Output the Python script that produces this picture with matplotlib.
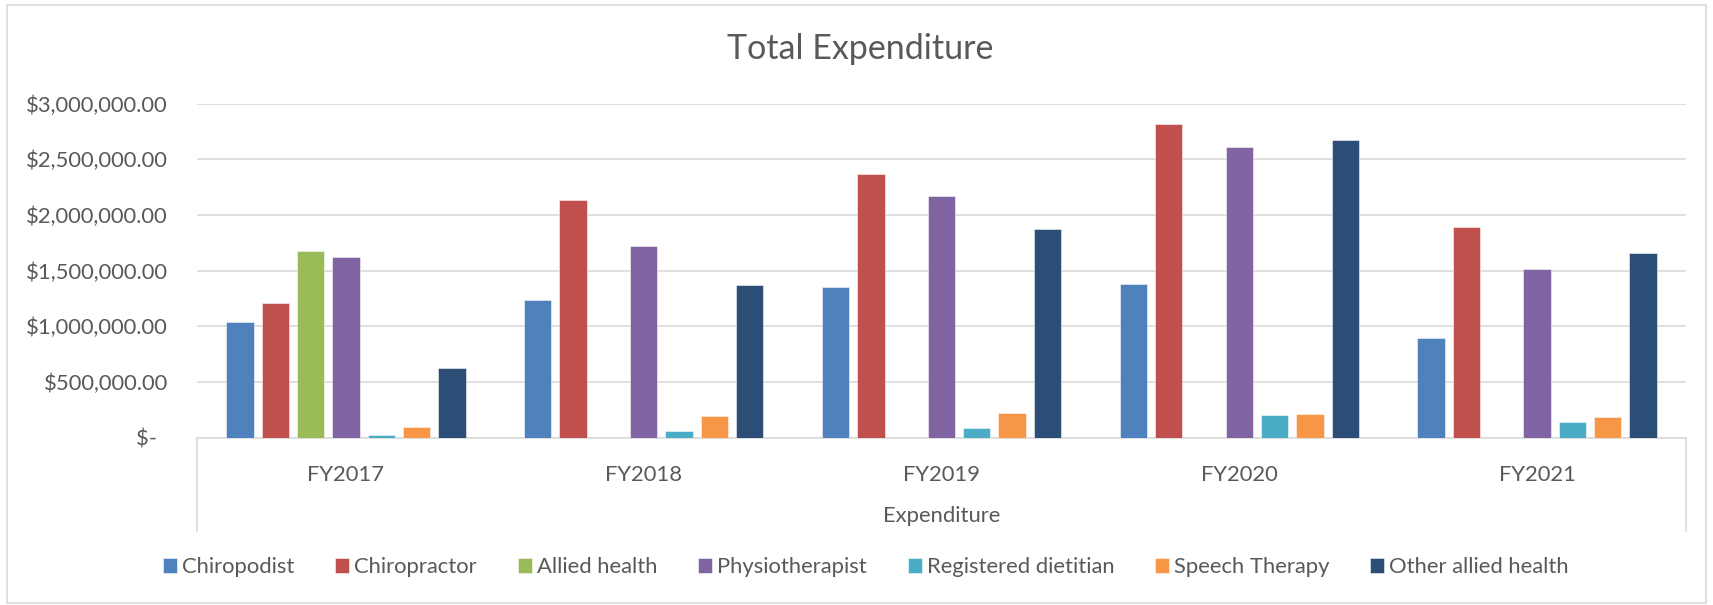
import numpy as np
import matplotlib
matplotlib.use("Agg")
import matplotlib.pyplot as plt
from matplotlib.lines import Line2D
from matplotlib.patches import Rectangle
from matplotlib.ticker import FuncFormatter

plt.rcParams['font.family'] = ['Lato', 'DejaVu Sans']

years = ['FY2017', 'FY2018', 'FY2019', 'FY2020', 'FY2021']
series = ['Chiropodist', 'Chiropractor', 'Allied health', 'Physiotherapist',
          'Registered dietitian', 'Speech Therapy', 'Other allied health']

chiropodist = [1040000, 1234000, 1351000, 1381000, 895000]
chiropractor = [1212000, 2135000, 2371000, 2818000, 1890000]
allied_health = [1677000, None, None, None, None]
physiotherapist = [1623000, 1722000, 2174000, 2608000, 1518000]
dietitian = [20000, 60000, 87000, 207000, 141000]
speech_therapy = [99000, 195000, 225000, 213000, 186000]
other_allied = [623000, 1371000, 1872000, 2671000, 1656000]

values = [chiropodist, chiropractor, allied_health, physiotherapist,
          dietitian, speech_therapy, other_allied]
colors = ['#4F81BD', '#C0504D', '#9BBB59', '#8064A2',
          '#4BACC6', '#F79646', '#2C4D75']

txt = '#595959'
grid = '#D9D9D9'

W, H = 1713, 605
fig = plt.figure(figsize=(W / 72, H / 72), dpi=72)
ax = fig.add_axes([197 / W, 1 - 437.7 / H, (1686 - 197) / W, (437.7 - 103.7) / H])

x = np.arange(len(years))
step = 0.1186
width = 0.0917
for i, (name, vals, c) in enumerate(zip(series, values, colors)):
    v = np.array([np.nan if a is None else a for a in vals], dtype=float)
    ax.bar(x + (i - 3) * step, v, width, color=c, label=name,
           edgecolor='white', linewidth=0.5, zorder=3)

ax.set_xlim(-0.5, len(years) - 0.5)
ax.set_ylim(0, 3000000)
ax.set_yticks(np.arange(0, 3000001, 500000))
ax.yaxis.set_major_formatter(FuncFormatter(
    lambda v, p: '$-  ' if v == 0 else f'${v:,.2f}'))
ax.set_xticks(x)
ax.set_xticklabels(years)
ax.tick_params(axis='y', length=0, pad=29, labelsize=22, labelcolor=txt)
ax.tick_params(axis='x', length=0, pad=27, labelsize=22, labelcolor=txt)
ax.grid(axis='y', color=grid, linewidth=1.6, zorder=0)
for s in ['top', 'right', 'left']:
    ax.spines[s].set_visible(False)
ax.spines['bottom'].set_color(grid)
ax.spines['bottom'].set_linewidth(1.6)

# box under the category axis
drop = -(531 - 437.7) / (437.7 - 103.7)
for xe in (0, 1):
    ax.add_line(Line2D([xe, xe], [0, drop], transform=ax.transAxes,
                       color=grid, linewidth=1.6, clip_on=False))

ax.set_xlabel('Expenditure', fontsize=22, color=txt, labelpad=21)

fig.text(0.502, 1 - 49 / H, 'Total Expenditure', ha='center', va='center',
         fontsize=34, color=txt)

fig.legend(loc='center', bbox_to_anchor=(866 / W, 1 - 567 / H), ncol=7,
           frameon=False, fontsize=22, labelcolor=txt,
           handlelength=0.64, handleheight=0.64, handletextpad=0.23,
           columnspacing=1.85)

fig.add_artist(Rectangle((7 / W, 1 - 603 / H), (1706 - 7) / W, (603 - 5) / H,
                         transform=fig.transFigure, fill=False,
                         edgecolor=grid, linewidth=1.6))

fig.savefig('out.png', dpi=72)
